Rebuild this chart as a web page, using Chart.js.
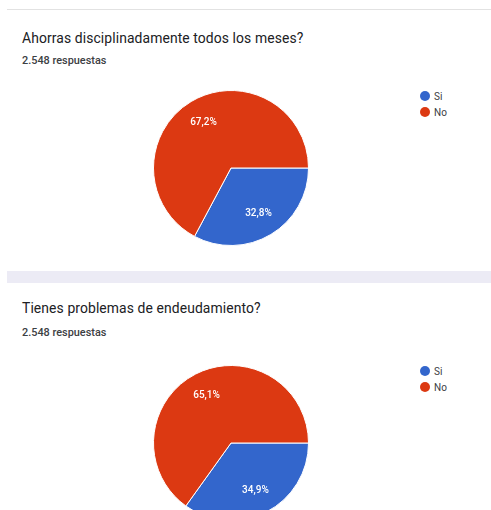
<!DOCTYPE html>
<html>
<head>
<meta charset="utf-8">
<script src="https://cdn.jsdelivr.net/npm/chart.js@4.4.1/dist/chart.umd.min.js"></script>
<style>
  html, body { margin: 0; padding: 0; background: #fff; }
  body { width: 491px; height: 510px; overflow: hidden; position: relative; font-family: Roboto, Arial, sans-serif; color: #202124; }
  .linea { position: absolute; left: 7px; right: 0; top: 9px; height: 1px; background: #e2e2e2; }
  .banda { position: absolute; left: 7px; right: 0; top: 271px; height: 12px; background: #ecebf5; }
  .titulo { position: absolute; left: 22px; font-size: 13.9px; letter-spacing: 0.1px; }
  .sub { position: absolute; left: 22px; font-size: 10.9px; font-weight: 500; color: #3c4043; }
  .lienzo { position: absolute; left: 151px; width: 160px; height: 160px; }
  .leyenda { position: absolute; left: 420px; font-size: 10px; color: #3c4043; }
  .leyenda div { height: 16px; line-height: 16px; }
  .leyenda span { display: inline-block; width: 10px; height: 10px; border-radius: 50%; vertical-align: -1px; margin-right: 4px; }
</style>
</head>
<body>
<div class="linea"></div>
<div class="titulo" id="t1" style="top:30px"></div>
<div class="sub" id="s1" style="top:54px"></div>
<div class="lienzo" style="top:88px"><canvas id="pie1" width="160" height="160"></canvas></div>
<div class="leyenda" id="ley1" style="top:89px"></div>

<div class="banda"></div>
<div class="titulo" id="t2" style="top:300px"></div>
<div class="sub" id="s2" style="top:326px"></div>
<div class="lienzo" style="top:363px"><canvas id="pie2" width="160" height="160"></canvas></div>
<div class="leyenda" id="ley2" style="top:364px"></div>

<script>
// respuestas de la encuesta
const categorias = ['Si', 'No'];
const colores = ['#3366cc', '#dc3912'];

const pregunta1 = 'Ahorras disciplinadamente todos los meses?';
const ahorroValores = [32.8, 67.2];

const pregunta2 = 'Tienes problemas de endeudamiento?';
const deudaValores = [34.9, 65.1];

const totalRespuestas = '2.548 respuestas';

// porcentaje dentro de cada porcion
const etiquetasPlugin = {
    id: 'etiquetas',
    afterDatasetsDraw(chart) {
        const ctx = chart.ctx;
        const valores = chart.data.datasets[0].data;
        chart.getDatasetMeta(0).data.forEach((arc, i) => {
            const p = arc.getProps(['x', 'y', 'startAngle', 'endAngle', 'outerRadius']);
            const mid = (p.startAngle + p.endAngle) / 2;
            const r = p.outerRadius * 0.69;
            ctx.save();
            ctx.fillStyle = '#ffffff';
            ctx.font = '500 10px Roboto, Arial, sans-serif';
            ctx.textAlign = 'center';
            ctx.textBaseline = 'middle';
            ctx.fillText(valores[i].toFixed(1).replace('.', ',') + '%', p.x + Math.cos(mid) * r, p.y + Math.sin(mid) * r);
            ctx.restore();
        });
    }
};

function pieGraph(canvasId, valores) {
    new Chart(document.querySelector(canvasId), {
        type: 'pie',
        data: {
            labels: categorias,
            datasets: [{
                data: valores,
                backgroundColor: colores,
                borderColor: '#ffffff',
                borderWidth: 1
            }]
        },
        options: {
            responsive: false,
            animation: false,
            rotation: 90,
            layout: { padding: 2 },
            plugins: {
                legend: { display: false },
                tooltip: { enabled: false }
            }
        },
        plugins: [etiquetasPlugin]
    });
}

function leyenda(id) {
    document.querySelector(id).innerHTML = categorias
        .map((c, i) => '<div><span style="background:' + colores[i] + '"></span>' + c + '</div>')
        .join('');
}

document.querySelector('#t1').textContent = pregunta1;
document.querySelector('#t2').textContent = pregunta2;
document.querySelector('#s1').textContent = totalRespuestas;
document.querySelector('#s2').textContent = totalRespuestas;

pieGraph('#pie1', ahorroValores);
pieGraph('#pie2', deudaValores);
leyenda('#ley1');
leyenda('#ley2');
</script>
</body>
</html>
